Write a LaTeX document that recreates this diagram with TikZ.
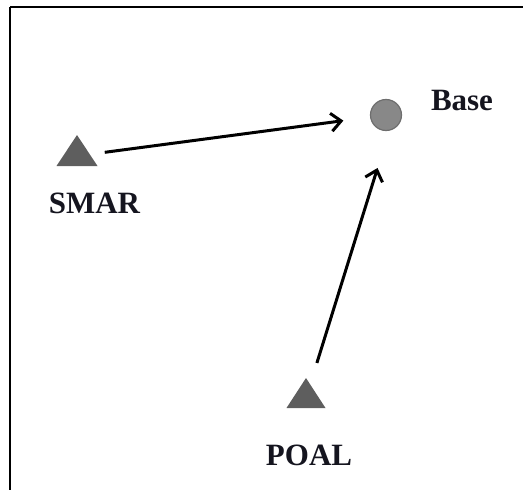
\documentclass[tikz,border=0pt]{standalone}
\usepackage{fontspec}
\setmainfont{Liberation Serif}
\usetikzlibrary{arrows.meta,calc}
\definecolor{markgray}{HTML}{5E5E5E}
\definecolor{basegray}{HTML}{888888}
\definecolor{baseedge}{HTML}{6E6E6E}
\definecolor{inkdark}{HTML}{15151F}
\tikzset{
  frameline/.style={line width=2.6pt, black},
  station/.style={fill=markgray},
  sitelabel/.style={anchor=base, inner sep=0pt, text=inkdark, font=\bfseries\fontsize{31}{31}\selectfont},
  link/.style={line width=3pt, black, -{Straight Barb[length=10pt,width=18pt,line width=3pt]}},
}
\begin{document}
\begin{tikzpicture}[x=1pt,y=-1pt]
\useasboundingbox (0,0) rectangle (523,490);
% open frame: top and left edges only
\draw[frameline] (10,7) -- (523,7);
\draw[frameline] (10,7) -- (10,490);

% stations
\coordinate (smar) at (77,156);
\fill[station] ($(smar)+(-20.5,10)$) -- ($(smar)+(0,-21)$) -- ($(smar)+(20.5,10)$) -- cycle;
\coordinate (poal) at (306,398);
\fill[station] ($(poal)+(-19.5,10)$) -- ($(poal)+(0,-20)$) -- ($(poal)+(19.5,10)$) -- cycle;
\node[circle, fill=basegray, draw=baseedge, line width=1.2pt, minimum size=31pt, inner sep=0pt] (base) at (386,115) {};
\coordinate (baseaim) at (394,115);

% labels
\node[sitelabel] (smarlbl) at (94.5,213) {SMAR};
\node[sitelabel] (poallbl) at (309,465) {POAL};
\node[sitelabel] (baselbl) at (462,110) {Base};

% links towards the base
\draw[link, shorten <=28pt, shorten >=43pt] (smar) -- (base.center);
\draw[link, shorten <=36.7pt, shorten >=55.5pt] (poal) -- (baseaim);
\end{tikzpicture}
\end{document}
